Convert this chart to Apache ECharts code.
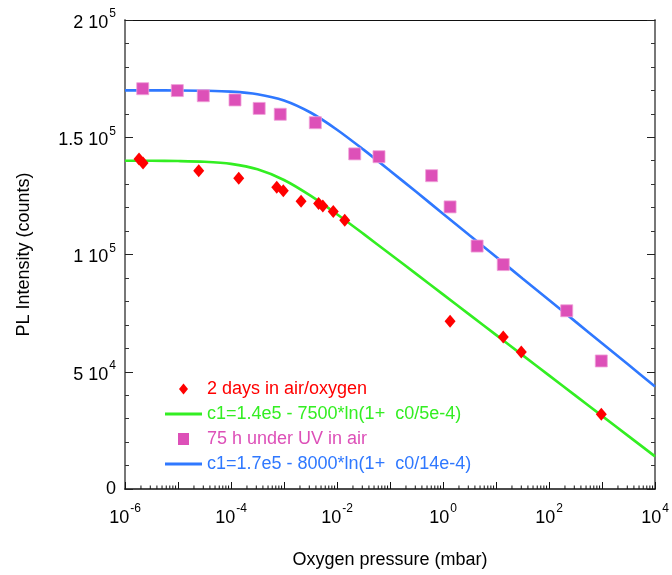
<!DOCTYPE html>
<html><head><meta charset="utf-8">
<script src="https://cdn.jsdelivr.net/npm/echarts@6/dist/echarts.min.js"></script>
<style>html,body{margin:0;padding:0;background:#fff}#c{width:672px;height:575px}</style>
</head><body><div id="c"></div>
<script>
// ---- data ----
const seriesNames = [
  '2 days in air/oxygen',
  'c1=1.4e5 - 7500*ln(1+  c0/5e-4)',
  '75 h under UV in air',
  'c1=1.7e5 - 8000*ln(1+  c0/14e-4)'
];
const airX = [1.84e-6, 2.19e-6, 2.46e-5, 1.40e-4, 7.3e-4, 9.7e-4, 2.1e-3, 4.5e-3, 5.4e-3, 8.5e-3, 1.4e-2, 1.36, 13.7, 30, 970];
const airY = [140700, 139000, 135700, 132500, 128700, 127200, 122700, 121800, 120700, 118300, 114600, 71500, 64800, 58400, 31900];
const uvX = [2.16e-6, 9.7e-6, 3.0e-5, 1.19e-4, 3.4e-4, 8.5e-4, 3.9e-3, 0.0216, 0.062, 0.61, 1.36, 4.4, 13.7, 216, 970];
const uvY = [170700, 169900, 167700, 165900, 162300, 159800, 156200, 142900, 141700, 133600, 120300, 103600, 95700, 76000, 54600];
const fitX = [1e-6, 3.16e-6, 1e-5, 3.16e-5, 1e-4, 3.16e-4, 1e-3, 3.16e-3, 1e-2, 3.16e-2, 0.1, 0.316, 1, 3.16, 10, 31.6, 100, 316, 1000, 3162, 1e4];
const airFitY = [139985, 139953, 139851, 139540, 138633, 136326, 131760, 125070, 117166, 108785, 100225, 91621, 82990, 74357, 65724, 57089, 48454, 39820, 31185, 22550, 13916];
const uvFitY = [169994, 169982, 169943, 169821, 169448, 168370, 165688, 160549, 153222, 144713, 135739, 126604, 117418, 108215, 99009, 89798, 80588, 71378, 62168, 52958, 43747];
const xLabelExponents = [-6, -4, -2, 0, 2, 4];
const yTickValues = [0, 50000, 100000, 150000, 200000];
const yTickMantissa = ['0', '5', '1', '1.5', '2'];
const yTickExponent = [null, 4, 5, 5, 5];
// ------------------------------------

const FONT = 'Liberation Sans, Arial, sans-serif';
const C_RED = '#ff0000', C_GREEN = '#33ee22', C_PINK = '#dd50b8', C_BLUE = '#2f78ff';

const airData = airX.map((x, i) => [x, airY[i]]);
const uvData = uvX.map((x, i) => [x, uvY[i]]);
const airFit = fitX.map((x, i) => [x, airFitY[i]]);
const uvFit = fitX.map((x, i) => [x, uvFitY[i]]);

// minor (2..9) tick positions for a logarithmic axis (decoration)
const minorTicks = [];
for (let e = -6; e < 4; e++) for (let k = 2; k <= 9; k++) minorTicks.push([k * Math.pow(10, e), 0]);

// legend icons in a 37x12 box (invisible moveTo points keep the box size)
const ICON_DIAMOND = 'path://M0,0 M37,12 M18.5,0.5 L23,6 L18.5,11.5 L14,6 Z';
const ICON_SQUARE = 'path://M0,0 M37,12 M13,0 L24,0 L24,12 L13,12 Z';
const ICON_LINE = 'path://M0,0 M37,12 M0,4.6 L37,4.6 L37,7.4 L0,7.4 Z';

const supRich = {
  b: { fontSize: 18, fontFamily: FONT, color: '#000', lineHeight: 18, verticalAlign: 'bottom' },
  s: { fontSize: 12, fontFamily: FONT, color: '#000', lineHeight: 24, verticalAlign: 'top', padding: [0, 0, 0, 1] }
};

const chart = echarts.init(document.getElementById('c'), null, { renderer: 'canvas' });
chart.setOption({
  animation: false,
  backgroundColor: '#fff',
  textStyle: { fontFamily: FONT },
  grid: { left: 125, right: 17, top: 20, bottom: 86, containLabel: false },
  legend: {
    orient: 'vertical', left: 160, top: 375,
    itemWidth: 37, itemHeight: 12, itemGap: 7,
    textStyle: { fontSize: 18, fontFamily: FONT, lineHeight: 18 },
    data: [
      { name: seriesNames[0], icon: ICON_DIAMOND, textStyle: { color: C_RED } },
      { name: seriesNames[1], icon: ICON_LINE, textStyle: { color: C_GREEN } },
      { name: seriesNames[2], icon: ICON_SQUARE, itemStyle: { borderWidth: 0 }, textStyle: { color: C_PINK } },
      { name: seriesNames[3], icon: ICON_LINE, textStyle: { color: C_BLUE } }
    ]
  },
  xAxis: [{
    type: 'log', logBase: 10, min: 1e-6, max: 1e4, interval: 1, position: 'bottom',
    name: 'Oxygen pressure (mbar)', nameLocation: 'middle', nameGap: 62,
    nameTextStyle: { fontSize: 18, fontFamily: FONT, color: '#000' },
    axisLine: { show: true, onZero: false, lineStyle: { color: '#111', width: 1.5 } },
    axisTick: { show: true, inside: true, length: 7, lineStyle: { color: '#111', width: 1 } },
    splitLine: { show: false },
    axisLabel: {
      margin: 14, rich: supRich,
      formatter: v => {
        const e = Math.round(Math.log10(v));
        return xLabelExponents.indexOf(e) >= 0 ? '{b|10}{s|' + e + '}' : '';
      }
    }
  }, {
    type: 'log', logBase: 10, min: 1e-6, max: 1e4, position: 'top',
    axisLine: { show: true, onZero: false, lineStyle: { color: '#111', width: 1 } },
    axisTick: { show: false }, axisLabel: { show: false }, splitLine: { show: false }
  }],
  yAxis: [{
    type: 'value', min: 0, max: 200000, interval: 50000, position: 'left',
    name: 'PL Intensity (counts)', nameLocation: 'middle', nameGap: 92,
    nameTextStyle: { fontSize: 18, fontFamily: FONT, color: '#000' },
    axisLine: { show: true, onZero: false, lineStyle: { color: '#777', width: 2 } },
    axisTick: { show: true, inside: true, length: 8, lineStyle: { color: '#222', width: 1 } },
    minorTick: { show: true, splitNumber: 5, length: 4, lineStyle: { color: '#333', width: 1 } },
    splitLine: { show: false },
    axisLabel: {
      margin: 9, rich: supRich,
      formatter: v => {
        const i = yTickValues.indexOf(v);
        if (i < 0) return '';
        return yTickExponent[i] == null ? '{b|' + yTickMantissa[i] + '}' :
          '{b|' + yTickMantissa[i] + ' 10}{s|' + yTickExponent[i] + '}';
      }
    }
  }, {
    type: 'value', min: 0, max: 200000, interval: 50000, position: 'right',
    axisLine: { show: true, onZero: false, lineStyle: { color: '#777', width: 2 } },
    axisTick: { show: true, inside: true, length: 8, lineStyle: { color: '#222', width: 1 } },
    minorTick: { show: true, splitNumber: 5, length: 4, lineStyle: { color: '#333', width: 1 } },
    axisLabel: { show: false }, splitLine: { show: false }
  }],
  series: [
    {
      name: 'minorTicks', type: 'custom', xAxisIndex: 0, yAxisIndex: 0, silent: true, clip: false,
      data: minorTicks, z: 1,
      renderItem: (params, api) => {
        const p = api.coord([api.value(0), 0]);
        return { type: 'line', shape: { x1: p[0], y1: p[1], x2: p[0], y2: p[1] - 3.5 }, style: { stroke: '#111', lineWidth: 1 } };
      }
    },
    {
      name: seriesNames[1], type: 'line', data: airFit, smooth: 0.3, showSymbol: false, symbol: 'none',
      lineStyle: { color: C_GREEN, width: 2.6 }, itemStyle: { color: C_GREEN }, z: 2
    },
    {
      name: seriesNames[3], type: 'line', data: uvFit, smooth: 0.3, showSymbol: false, symbol: 'none',
      lineStyle: { color: C_BLUE, width: 2.6 }, itemStyle: { color: C_BLUE }, z: 2
    },
    {
      name: seriesNames[0], type: 'scatter', data: airData, symbol: 'diamond', symbolSize: [11, 13],
      itemStyle: { color: C_RED, opacity: 1 }, z: 3
    },
    {
      name: seriesNames[2], type: 'scatter', data: uvData, symbol: 'rect', symbolSize: 12,
      itemStyle: { color: C_PINK, borderColor: '#f0a0d8', borderWidth: 0.8, opacity: 1 }, z: 3
    }
  ]
});
</script></body></html>
